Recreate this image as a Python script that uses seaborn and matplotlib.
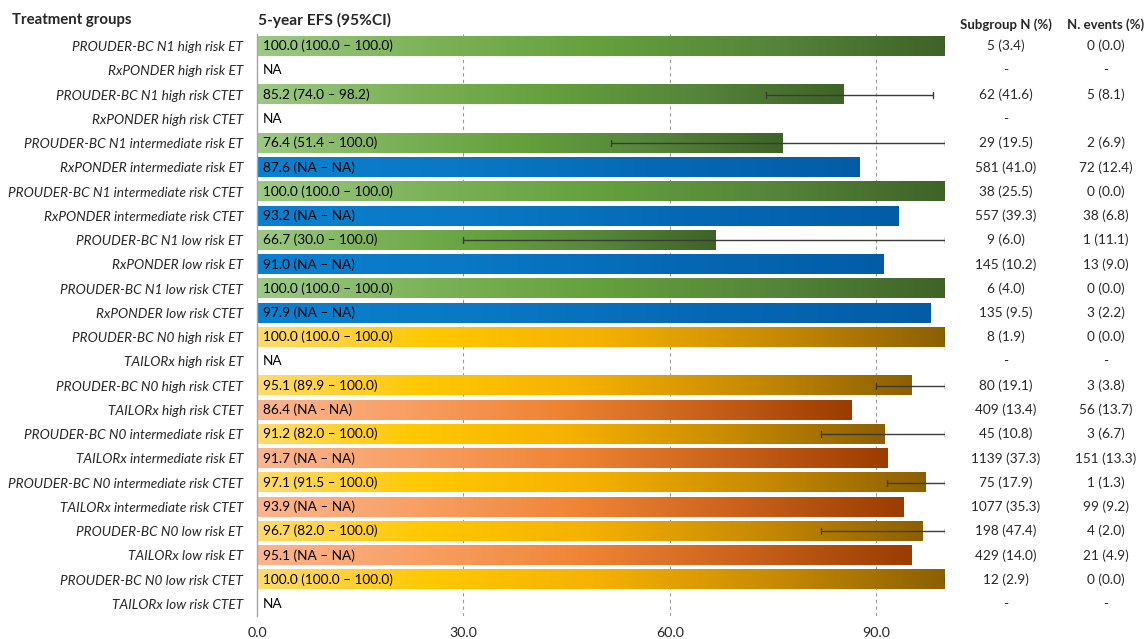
import numpy as np
import pandas as pd
import matplotlib
matplotlib.use("Agg")
import matplotlib.pyplot as plt
from matplotlib.colors import LinearSegmentedColormap
from matplotlib import transforms
import seaborn as sns

sns.set_style("white")
plt.rcParams["font.family"] = ["Lato", "DejaVu Sans"]

# ---- data -----------------------------------------------------------------
groups = [
    "PROUDER-BC N1 high risk ET", "RxPONDER high risk ET",
    "PROUDER-BC N1 high risk CTET", "RxPONDER high risk CTET",
    "PROUDER-BC N1 intermediate risk ET", "RxPONDER intermediate risk ET",
    "PROUDER-BC N1 intermediate risk CTET", "RxPONDER intermediate risk CTET",
    "PROUDER-BC N1 low risk ET", "RxPONDER low risk ET",
    "PROUDER-BC N1 low risk CTET", "RxPONDER low risk CTET",
    "PROUDER-BC N0 high risk ET", "TAILORx high risk ET",
    "PROUDER-BC N0 high risk CTET", "TAILORx high risk CTET",
    "PROUDER-BC N0 intermediate risk ET", "TAILORx intermediate risk ET",
    "PROUDER-BC N0 intermediate risk CTET", "TAILORx intermediate risk CTET",
    "PROUDER-BC N0 low risk ET", "TAILORx low risk ET",
    "PROUDER-BC N0 low risk CTET", "TAILORx low risk CTET",
]
cohort = [
    "N1", "Rx", "N1", "Rx", "N1", "Rx", "N1", "Rx", "N1", "Rx", "N1", "Rx",
    "N0", "TX", "N0", "TX", "N0", "TX", "N0", "TX", "N0", "TX", "N0", "TX",
]
nan = np.nan
efs = [100.0, nan, 85.2, nan, 76.4, 87.6, 100.0, 93.2, 66.7, 91.0, 100.0, 97.9,
       100.0, nan, 95.1, 86.4, 91.2, 91.7, 97.1, 93.9, 96.7, 95.1, 100.0, nan]
ci_low = [100.0, nan, 74.0, nan, 51.4, nan, 100.0, nan, 30.0, nan, 100.0, nan,
          100.0, nan, 89.9, nan, 82.0, nan, 91.5, nan, 82.0, nan, 100.0, nan]
ci_high = [100.0, nan, 98.2, nan, 100.0, nan, 100.0, nan, 100.0, nan, 100.0, nan,
           100.0, nan, 100.0, nan, 100.0, nan, 100.0, nan, 100.0, nan, 100.0, nan]
ci_sep = ["–"] * 15 + ["-"] + ["–"] * 8
subgroup_n = ["5 (3.4)", "-", "62 (41.6)", "-", "29 (19.5)", "581 (41.0)",
              "38 (25.5)", "557 (39.3)", "9 (6.0)", "145 (10.2)", "6 (4.0)",
              "135 (9.5)", "8 (1.9)", "-", "80 (19.1)", "409 (13.4)",
              "45 (10.8)", "1139 (37.3)", "75 (17.9)", "1077 (35.3)",
              "198 (47.4)", "429 (14.0)", "12 (2.9)", "-"]
n_events = ["0 (0.0)", "-", "5 (8.1)", "", "2 (6.9)", "72 (12.4)", "0 (0.0)",
            "38 (6.8)", "1 (11.1)", "13 (9.0)", "0 (0.0)", "3 (2.2)", "0 (0.0)",
            "-", "3 (3.8)", "56 (13.7)", "3 (6.7)", "151 (13.3)", "1 (1.3)",
            "99 (9.2)", "4 (2.0)", "21 (4.9)", "0 (0.0)", "-"]
x_ticks = [0.0, 30.0, 60.0, 90.0]

# colour ramps for each cohort (left -> right along every bar)
ramps = {
    "N1": ["#9cc985", "#7cb257", "#64a03c", "#55853a", "#3e6327"],
    "Rx": ["#0a80cf", "#0a78c4", "#0668b5", "#045ca6"],
    "N0": ["#ffdb6e", "#ffc800", "#f5b100", "#c98b00", "#8c6000"],
    "TX": ["#fcb58f", "#f89f63", "#ef8434", "#c9611a", "#9b3c00"],
}
cmaps = {k: LinearSegmentedColormap.from_list(k, v) for k, v in ramps.items()}

df = pd.DataFrame({"group": groups, "efs": efs})

FS = 9.8

# ---- figure ---------------------------------------------------------------
W, H = 1148, 639
fig = plt.figure(figsize=(W / 100, H / 100), dpi=100)
ax = fig.add_axes([257 / W, 1 - 616 / H, 688 / W, 582 / H])

sns.barplot(data=df, x="efs", y="group", orient="y", order=groups,
            color="white", width=0.8, errorbar=None, ax=ax)

gradient = np.linspace(0, 1, 256).reshape(1, -1)
for p in ax.patches:
    y0, h = p.get_y(), p.get_height()
    row = int(round(y0 + h / 2))
    x0, w = p.get_x(), p.get_width()
    p.set_facecolor("none")
    p.set_edgecolor("none")
    ax.imshow(gradient, cmap=cmaps[cohort[row]], aspect="auto",
              extent=(x0, x0 + w, y0 + h, y0), interpolation="bilinear",
              zorder=2)

# confidence intervals
for i, (lo, hi) in enumerate(zip(ci_low, ci_high)):
    if np.isnan(lo):
        continue
    ax.plot([lo, hi], [i, i], color="#3a3a3a", lw=1.0, zorder=3,
            solid_capstyle="butt")
    for xc in (lo, hi):
        ax.plot([xc, xc], [i - 0.12, i + 0.12], color="#3a3a3a", lw=1.0,
                zorder=3)

# value labels inside the bars
for i, v in enumerate(efs):
    if np.isnan(v):
        label = "NA"
    else:
        lo = "NA" if np.isnan(ci_low[i]) else f"{ci_low[i]:.1f}"
        hi = "NA" if np.isnan(ci_high[i]) else f"{ci_high[i]:.1f}"
        label = f"{v:.1f} ({lo} {ci_sep[i]} {hi})"
    ax.text(0.9, i, label, va="center", ha="left", fontsize=FS,
            color="black", zorder=4)

ax.set_xlim(0, 100)
ax.set_ylim(len(groups) - 0.5, -0.5)
ax.set_xticks(x_ticks)
ax.set_xticklabels([f"{t:.1f}" for t in x_ticks])
ax.set_xlabel("")
ax.set_ylabel("")
ax.set_axisbelow(True)
ax.xaxis.grid(True, color="#9a9a9a", lw=0.8, ls=(0, (3, 3)))
ax.yaxis.grid(False)
for s in ("top", "right", "bottom"):
    ax.spines[s].set_visible(False)
ax.spines["left"].set_color("#a6a6a6")
ax.spines["left"].set_linewidth(1.0)
ax.tick_params(axis="both", length=0)
ax.tick_params(axis="x", pad=8, labelsize=FS + 0.5)
ax.tick_params(axis="y", pad=10, labelsize=FS)
for t in ax.get_yticklabels():
    t.set_fontstyle("italic")

# right-hand columns
tr = transforms.blended_transform_factory(fig.transFigure, ax.transData)
for i, (n, e) in enumerate(zip(subgroup_n, n_events)):
    fig.text(1006 / W, i, n, transform=tr, ha="center", va="center", fontsize=FS)
    fig.text(1106 / W, i, e, transform=tr, ha="center", va="center", fontsize=FS)

# headers
fig.text(12 / W, 1 - 20 / H, "Treatment groups", ha="left", va="center",
         fontsize=10.8, fontweight="bold")
fig.text(258 / W, 1 - 20 / H, "5-year EFS (95%CI)", ha="left", va="center",
         fontsize=11.2, fontweight="bold")
fig.text(1006 / W, 1 - 25 / H, "Subgroup N (%)", ha="center", va="center",
         fontsize=9.5, fontweight="bold")
fig.text(1106 / W, 1 - 25 / H, "N. events (%)", ha="center", va="center",
         fontsize=9.5, fontweight="bold")

fig.savefig("out.png", dpi=100)
